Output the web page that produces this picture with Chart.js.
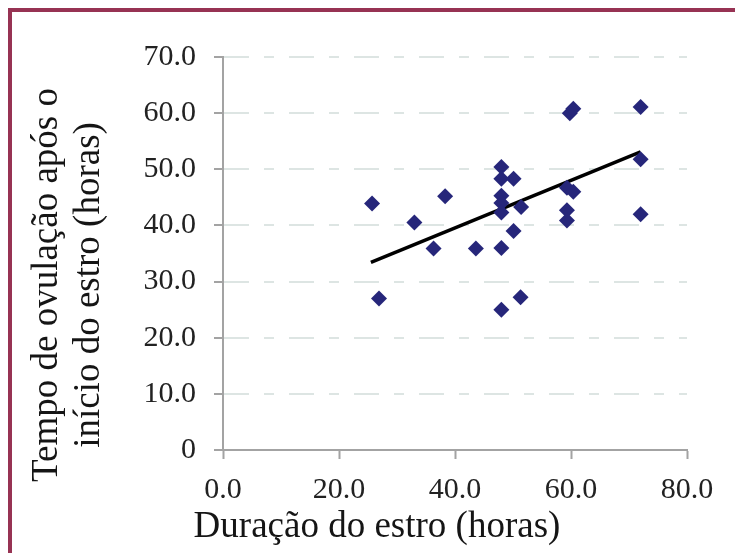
<!DOCTYPE html>
<html>
<head>
<meta charset="utf-8">
<script src="https://cdn.jsdelivr.net/npm/chart.js@4"></script>
<style>
  html, body { margin: 0; padding: 0; background: #fff; overflow: hidden; }
  #frame { position: absolute; left: 8px; top: 8px; width: 800px; height: 600px; border: 4px solid #973353; }
  #wrap { position: absolute; left: 0; top: 0; width: 735px; height: 553px; }
</style>
</head>
<body>
<div id="frame"></div>
<div id="wrap"><canvas id="chart" width="735" height="553"></canvas></div>
<script>
/* =====================
  Data
===================== */

// duração do estro (horas)
var durations = [25.7, 26.9, 33.0, 36.3, 38.3, 43.6, 48.0, 48.0, 50.1, 48.0, 48.0, 48.0, 51.4,
                 50.1, 48.0, 48.0, 51.3, 59.3, 60.4, 59.3, 59.3, 59.8, 60.4, 72.0, 72.0, 72.0];
// tempo de ovulação após o início do estro (horas)
var ovulation = [43.9, 27.0, 40.5, 35.9, 45.2, 35.9, 50.4, 48.3, 48.3, 45.3, 44.0, 42.3, 43.3,
                 39.0, 36.0, 25.0, 27.2, 46.7, 46.0, 42.7, 40.9, 60.0, 60.8, 61.1, 51.8, 42.0];

// trend line ends
var trendX = [25.5, 72.0];
var trendY = [33.4, 53.1];

var xTickLabels = ['0.0', '20.0', '40.0', '60.0', '80.0'];
var yTickLabels = ['0', '10.0', '20.0', '30.0', '40.0', '50.0', '60.0', '70.0'];

var xTitle = 'Duração do estro (horas)';
var yTitle = ['Tempo de ovulação após o', 'início do estro (horas)'];

var points = durations.map(function(d, i) { return {x: d, y: ovulation[i]}; });
var trend = trendX.map(function(d, i) { return {x: d, y: trendY[i]}; });

var serif = '"Liberation Serif", "Times New Roman", serif';

// axis titles are centered on the whole chart, not on the plot, so draw them here
var titlesPlugin = {
  id: 'titles',
  afterDraw: function(chart) {
    var ctx = chart.ctx;
    ctx.save();
    ctx.fillStyle = '#151515';
    ctx.font = '37px ' + serif;
    ctx.textAlign = 'center';
    ctx.textBaseline = 'alphabetic';
    ctx.fillText(xTitle, 377, 537);
    ctx.translate(0, 285);
    ctx.rotate(-Math.PI / 2);
    ctx.fillText(yTitle[0], 0, 57);
    ctx.fillText(yTitle[1], 0, 99);
    ctx.restore();
  }
};

var ctx = document.getElementById('chart').getContext('2d');
var chart = new Chart(ctx, {
  type: 'scatter',
  data: {
    datasets: [{
      label: 'dados',
      data: points,
      pointStyle: 'rectRot',
      pointRadius: 8,
      pointHoverRadius: 8,
      backgroundColor: '#26267a',
      borderColor: '#26267a',
      borderWidth: 0
    }, {
      label: 'tendência',
      type: 'line',
      data: trend,
      showLine: true,
      borderColor: '#000',
      borderWidth: 3.5,
      pointRadius: 0,
      fill: false
    }]
  },
  options: {
    responsive: false,
    animation: false,
    events: [],
    layout: { padding: { top: 57, right: 48, left: 0, bottom: 0 } },
    plugins: { legend: { display: false }, tooltip: { enabled: false } },
    scales: {
      x: {
        type: 'linear',
        min: 0, max: 80,
        afterFit: function(scale) { scale.height = 103; },
        afterBuildTicks: function(scale) {
          scale.ticks = xTickLabels.map(function(t, i) { return {value: i * 20}; });
        },
        ticks: {
          color: '#222',
          font: { family: serif, size: 30 },
          padding: 13,
          maxRotation: 0,
          callback: function(v, i) { return xTickLabels[i]; }
        },
        grid: { drawOnChartArea: false, drawTicks: true, tickLength: 9, tickColor: '#a3a3a3', tickWidth: 2 },
        border: { color: '#a3a3a3', width: 2 }
      },
      y: {
        type: 'linear',
        min: 0, max: 70,
        afterFit: function(scale) { scale.width = 223; },
        afterBuildTicks: function(scale) {
          scale.ticks = yTickLabels.map(function(t, i) { return {value: i * 10}; });
        },
        ticks: {
          color: '#222',
          font: { family: serif, size: 30 },
          padding: 18,
          callback: function(v, i) { return yTickLabels[i]; }
        },
        grid: {
          color: '#dde5e3',
          lineWidth: 2,
          tickBorderDash: [],
          tickLength: 9,
          tickColor: '#a3a3a3',
          tickWidth: 2
        },
        border: { color: '#a3a3a3', width: 2, dash: [25, 15, 10, 15] }
      }
    }
  },
  plugins: [titlesPlugin]
});
</script>
</body>
</html>
